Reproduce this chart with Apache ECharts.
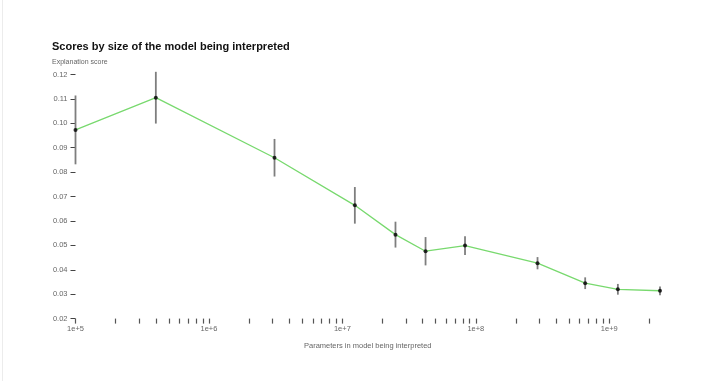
<!DOCTYPE html>
<html>
<head>
<meta charset="utf-8">
<script src="https://cdn.jsdelivr.net/npm/echarts@6/dist/echarts.min.js"></script>
<style>
html,body{margin:0;padding:0;background:#fff;}
#frame{position:absolute;left:0;top:0;width:721px;height:381px;}
#edge{position:absolute;left:2px;top:0;width:1px;height:381px;background:#ececec;}
#chart{position:absolute;left:0;top:0;width:721px;height:381px;}
</style>
</head>
<body>
<div id="frame"><div id="edge"></div><div id="chart"></div></div>
<script>
// Data
const params = [1e5, 4e5, 3.1e6, 1.24e7, 2.5e7, 4.2e7, 8.3e7, 2.9e8, 6.6e8, 1.16e9, 2.4e9];
const scores = [0.0973, 0.1105, 0.0859, 0.0664, 0.0544, 0.0476, 0.0499, 0.0427, 0.0345, 0.0320, 0.0314];
const errors = [0.0141, 0.0106, 0.0077, 0.0075, 0.0053, 0.0058, 0.0038, 0.0025, 0.0024, 0.0022, 0.0018];
const xTickValues = [
  1e5,2e5,3e5,4e5,5e5,6e5,7e5,8e5,9e5,
  1e6,2e6,3e6,4e6,5e6,6e6,7e6,8e6,9e6,
  1e7,2e7,3e7,4e7,5e7,6e7,7e7,8e7,9e7,
  1e8,2e8,3e8,4e8,5e8,6e8,7e8,8e8,9e8,
  1e9,2e9
];
const xLabelValues = [1e5, 1e6, 1e7, 1e8, 1e9];
const yMin = 0.02, yMax = 0.12, yStep = 0.01;

const lineData = params.map((p, i) => [p, scores[i]]);
const errData = params.map((p, i) => [p, scores[i] - errors[i], scores[i] + errors[i]]);

const chart = echarts.init(document.getElementById('chart'), null, {renderer: 'canvas'});
const font = '"Liberation Sans", Arial, sans-serif';
chart.setOption({
  animation: false,
  backgroundColor: 'transparent',
  title: [
    {text: 'Scores by size of the model being interpreted', left: 47, top: 36,
     textStyle: {fontFamily: font, fontSize: 11, fontWeight: 'bold', color: '#111'}},
    {text: 'Explanation score', left: 47, top: 54,
     textStyle: {fontFamily: font, fontSize: 7, fontWeight: 'normal', color: '#666'}}
  ],
  grid: {left: 75.5, right: 61, top: 74.5, bottom: 62.4, containLabel: false},
  xAxis: {
    type: 'log', logBase: 10, min: params[0], max: params[params.length - 1],
    name: 'Parameters in model being interpreted', nameLocation: 'middle', nameGap: 23,
    nameTextStyle: {fontFamily: font, fontSize: 7.5, color: '#666'},
    axisLine: {show: false},
    axisTick: {show: true, length: 5, customValues: xTickValues, lineStyle: {color: '#555', width: 1.2}},
    axisLabel: {show: true, customValues: xLabelValues, margin: 6, fontFamily: font, fontSize: 7.5, color: '#666',
      formatter: v => '1e+' + Math.round(Math.log10(v))},
    splitLine: {show: false}, minorTick: {show: false}
  },
  yAxis: {
    type: 'value', min: yMin, max: yMax, interval: yStep,
    axisLine: {show: false},
    axisTick: {show: true, length: 5, lineStyle: {color: '#444', width: 1}},
    axisLabel: {margin: 8, fontFamily: font, fontSize: 7.5, color: '#666', formatter: v => v.toFixed(2)},
    splitLine: {show: false}
  },
  series: [
    {type: 'line', data: lineData, showSymbol: false, lineStyle: {color: '#78d96e', width: 1.3}, z: 1},
    {type: 'custom', data: errData, clip: false, z: 2,
     encode: {x: 0, y: [1, 2]},
     renderItem: function (params, api) {
       const x = api.value(0);
       const lo = api.coord([x, api.value(1)]);
       const hi = api.coord([x, api.value(2)]);
       return {type: 'line', shape: {x1: lo[0], y1: lo[1], x2: hi[0], y2: hi[1]},
               style: {stroke: '#7e7e7e', lineWidth: 1.8}};
     }},
    {type: 'scatter', data: lineData, symbol: 'circle', symbolSize: 4, itemStyle: {color: '#000'}, z: 3}
  ]
});
</script>
</body>
</html>
